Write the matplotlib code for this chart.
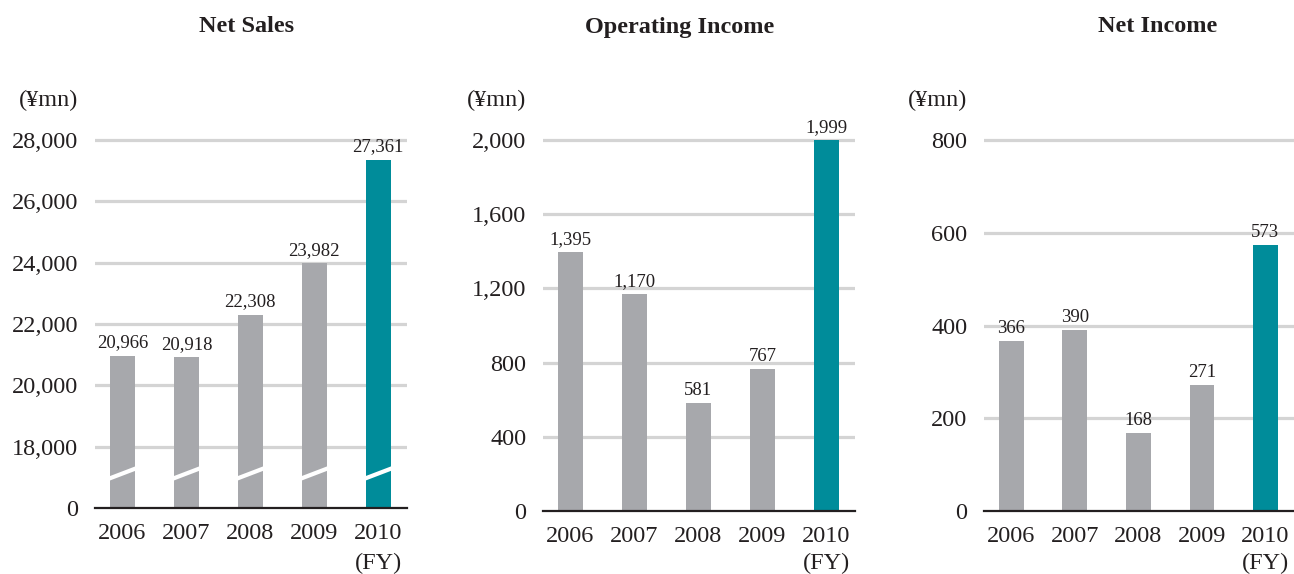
import matplotlib.pyplot as plt

plt.rcParams['font.family'] = ['Liberation Serif', 'DejaVu Serif']

years = ['2006', '2007', '2008', '2009', '2010']
net_sales = [20966, 20918, 22308, 23982, 27361]
operating_income = [1395, 1170, 581, 767, 1999]
net_income = [366, 390, 168, 271, 573]

sales_ticks = [0, 18000, 20000, 22000, 24000, 26000, 28000]
op_ticks = [0, 400, 800, 1200, 1600, 2000]
ni_ticks = [0, 200, 400, 600, 800]

gray = '#a7a8ac'
teal = '#008c9a'
grid_c = '#d4d4d4'
ink = '#231f20'

W, H = 1294, 574
fig = plt.figure(figsize=(W / 100, H / 100), dpi=100)

# sales axis is broken: 0 sits one step below 18,000
BREAK = 16000


def sales_pos(v):
    return 0 if v == 0 else v - BREAK


def panel(left, right, zero_px, top_px, top_val, ymax, vals, ticks, tick_pos, title, title_x, broken=False):
    h_px = (zero_px - top_px) / top_val * ymax
    ax = fig.add_axes([left / W, 1 - zero_px / H, (right - left) / W, h_px / H])
    ax.set_xlim(-0.43, 4.45)
    ax.set_ylim(0, ymax)
    for t in tick_pos[1:]:
        ax.axhline(t, color=grid_c, lw=2.3, zorder=1)
    ax.axhline(0, color=ink, lw=1.6, zorder=3, clip_on=False)
    x = list(range(len(years)))
    heights = [sales_pos(v) if broken else v for v in vals]
    colors = [gray] * (len(vals) - 1) + [teal]
    ax.bar(x, heights, width=0.39, color=colors, zorder=2)
    for xi, hi, v in zip(x, heights, vals):
        ax.annotate(f'{v:,}', (xi, hi), xytext=(0, 3), textcoords='offset points',
                    ha='center', va='bottom', fontsize=13.5, color=ink)
    if broken:
        for xi in x:
            ax.plot([xi - 0.22, xi + 0.22], [950, 1300], color='white', lw=3, zorder=2.5,
                    solid_capstyle='butt')
    ax.set_yticks(tick_pos)
    ax.set_yticklabels([f'{t:,}' for t in ticks])
    ax.set_xticks(x)
    ax.set_xticklabels(years)
    ax.tick_params(axis='y', length=0, pad=12, labelsize=17.5, colors=ink)
    ax.tick_params(axis='x', length=0, pad=11, labelsize=17.5, colors=ink)
    for s in ax.spines.values():
        s.set_visible(False)
    # unit label, right edge lined up with the tick labels
    fig.text((left - 17) / W, 1 - 100 / H, '(¥mn)', ha='right', va='center',
             fontsize=17.5, color=ink)
    # (FY) under the last year
    x_fy = ax.transData.transform((4, 0))[0]
    fig.text(x_fy / W, 1 - 563 / H, '(FY)', ha='center', va='center',
             fontsize=17.5, color=ink)
    fig.text(title_x / W, 1 - 27 / H, title, ha='center', va='center',
             fontsize=17.5, fontweight='bold', color=ink)
    return ax


ax1 = panel(95, 407, 508, 140, 12000, 12000 * 1.047, net_sales, sales_ticks,
            [sales_pos(t) for t in sales_ticks], 'Net Sales', 247, broken=True)
ax2 = panel(543, 855, 511, 140, 2000, 2000 * 1.055, operating_income, op_ticks,
            op_ticks, 'Operating Income', 680)
ax3 = panel(984, 1294, 511, 140, 800, 800 * 1.055, net_income, ni_ticks,
            ni_ticks, 'Net Income', 1158)

fig.savefig('out.png', dpi=100)
